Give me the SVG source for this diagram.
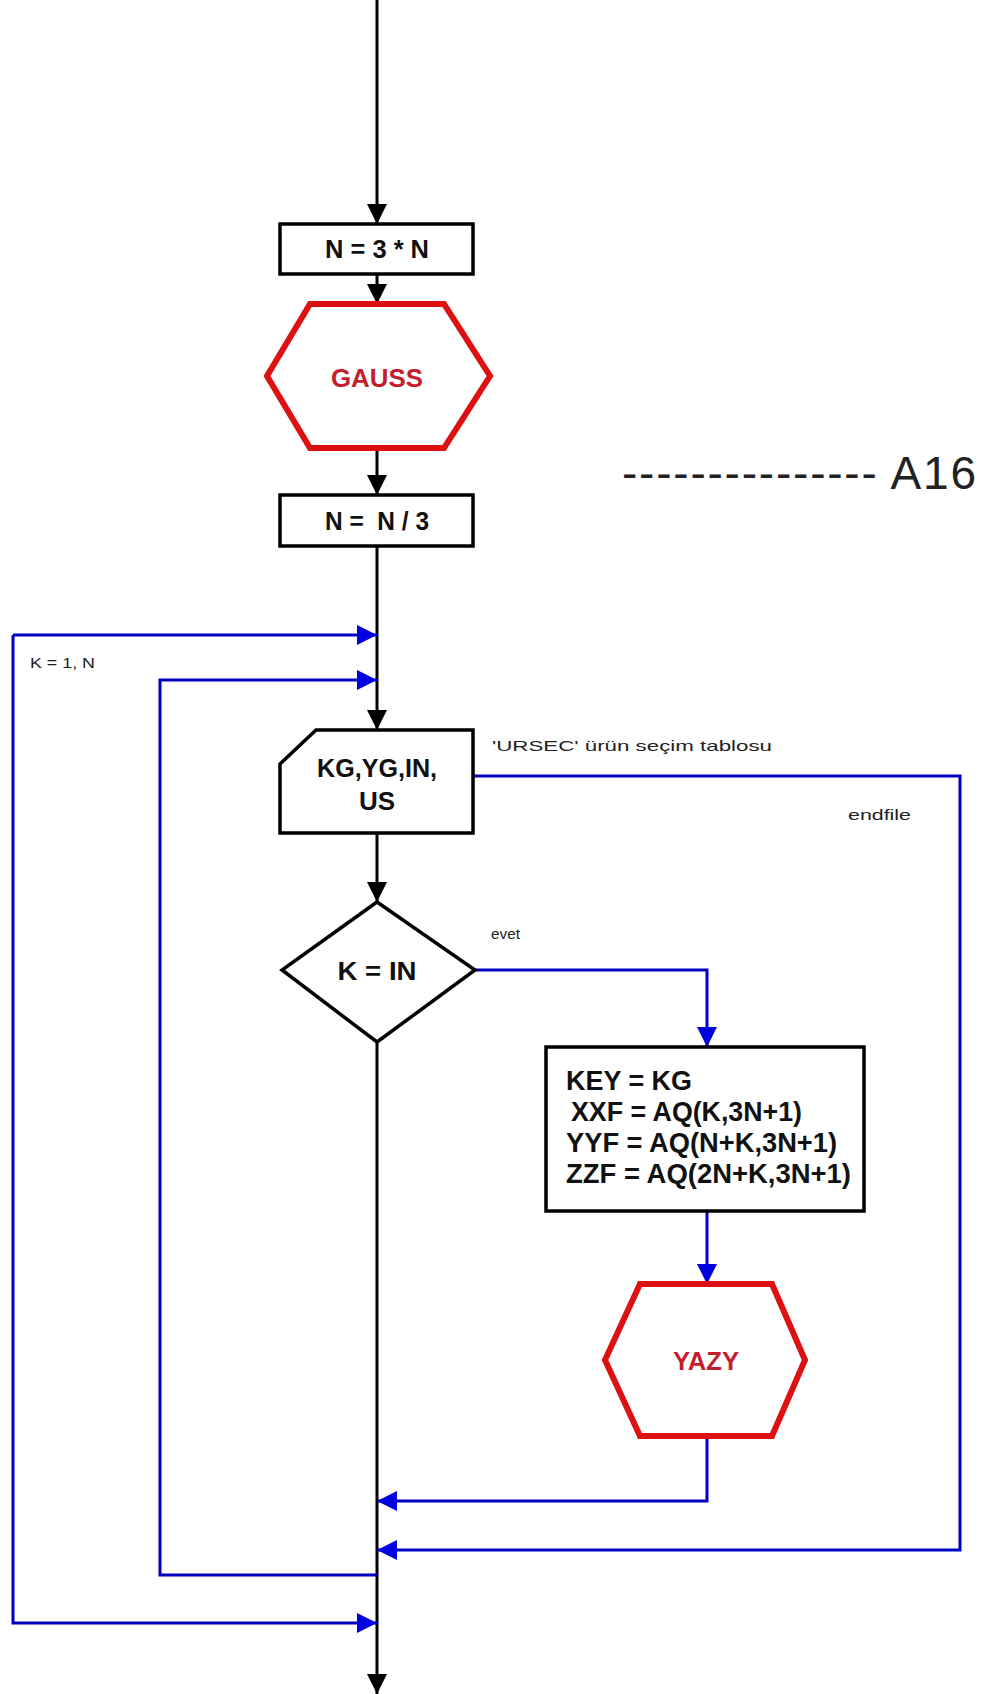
<svg xmlns="http://www.w3.org/2000/svg" width="983" height="1694" viewBox="0 0 983 1694">
<style>
.bk{fill:none;stroke:#000;stroke-width:3}
.bl{fill:none;stroke:#0000c0;stroke-width:3}
.box{fill:#fff;stroke:#000;stroke-width:3.5}
.hex{fill:#fff;stroke:#dd1111;stroke-width:6;stroke-linejoin:miter}
.lbl{font-family:"Liberation Sans",Arial,sans-serif;font-weight:bold;fill:#111;text-anchor:middle}
.red{font-family:"Liberation Sans",Arial,sans-serif;font-weight:bold;fill:#c41e2e;text-anchor:middle}
.sm{font-family:"Liberation Sans",Arial,sans-serif;fill:#222}
</style>
<defs>
<marker id="ab" markerUnits="userSpaceOnUse" markerWidth="22" markerHeight="20" refX="20" refY="10" orient="auto"><path d="M0,0 L20,10 L0,20 z" fill="#000"/></marker>
<marker id="au" markerUnits="userSpaceOnUse" markerWidth="22" markerHeight="20" refX="20" refY="10" orient="auto"><path d="M0,0 L20,10 L0,20 z" fill="#0000e0"/></marker>
</defs>
<g id="connectors">
<path class="bk" d="M377,0 V224" marker-end="url(#ab)"/>
<path class="bk" d="M377,274 V304" marker-end="url(#ab)"/>
<path class="bk" d="M377,448 V495" marker-end="url(#ab)"/>
<path class="bk" d="M377,546 V730" marker-end="url(#ab)"/>
<path class="bk" d="M377,833 V902" marker-end="url(#ab)"/>
<path class="bk" d="M377,1042 V1694" marker-end="url(#ab)"/>
<path class="bl" d="M475,970 H707 V1047" marker-end="url(#au)"/>
<path class="bl" d="M707,1211 V1284" marker-end="url(#au)"/>
<path class="bl" d="M707,1436 V1501 H377" marker-end="url(#au)"/>
<path class="bl" d="M473,776 H960 V1550 H377" marker-end="url(#au)"/>
<path class="bl" d="M377,1575 H160 V680 H377" marker-end="url(#au)"/>
<path class="bl" d="M13,635 H377" marker-end="url(#au)"/>
<path class="bl" d="M13,635 V1623 H377" marker-end="url(#au)"/>
</g>
<g id="n1">
<rect class="box" x="280" y="224" width="193" height="50"/>
<text class="lbl" x="377" y="258" font-size="25" textLength="104" lengthAdjust="spacingAndGlyphs">N = 3 * N</text>
</g>
<g id="gauss">
<polygon class="hex" points="310,304 444,304 490,376 444,448 310,448 267,376"/>
<text class="red" x="377" y="387" font-size="26" textLength="92" lengthAdjust="spacingAndGlyphs">GAUSS</text>
</g>
<g id="n2">
<rect class="box" x="280" y="495" width="193" height="51"/>
<text class="lbl" x="377" y="530" font-size="25" textLength="104" lengthAdjust="spacingAndGlyphs">N =&#160; N / 3</text>
</g>
<g id="a16">
<text class="sm" x="622" y="489" font-size="46" fill="#111" textLength="354" lengthAdjust="spacing">--------------- A16</text>
</g>
<g id="loop">
<text class="sm" x="30" y="668" font-size="14" textLength="65" lengthAdjust="spacingAndGlyphs">K = 1, N</text>
</g>
<g id="read">
<path class="box" d="M316,730 H473 V833 H280 V764 Z"/>
<text class="lbl" x="377" y="777" font-size="26" textLength="120" lengthAdjust="spacingAndGlyphs">KG,YG,IN,</text>
<text class="lbl" x="377" y="810" font-size="26">US</text>
<text class="sm" x="492" y="751" font-size="15" textLength="280" lengthAdjust="spacingAndGlyphs">'URSEC' ürün seçim  tablosu</text>
<text class="sm" x="848" y="820" font-size="14" textLength="63" lengthAdjust="spacingAndGlyphs">endfile</text>
</g>
<g id="dec">
<polygon class="box" points="377,902 475,970 377,1042 282,970"/>
<text class="lbl" x="377" y="980" font-size="26" textLength="79" lengthAdjust="spacingAndGlyphs">K = IN</text>
<text class="sm" x="491" y="939" font-size="14" textLength="29" lengthAdjust="spacingAndGlyphs">evet</text>
</g>
<g id="assign">
<rect class="box" x="546" y="1047" width="318" height="164"/>
<text class="lbl" style="text-anchor:start" font-size="27">
<tspan x="566" y="1090" textLength="126" lengthAdjust="spacingAndGlyphs">KEY = KG</tspan>
<tspan x="571" y="1121" textLength="231" lengthAdjust="spacingAndGlyphs">XXF = AQ(K,3N+1)</tspan>
<tspan x="566" y="1152" textLength="271" lengthAdjust="spacingAndGlyphs">YYF = AQ(N+K,3N+1)</tspan>
<tspan x="566" y="1183" textLength="285" lengthAdjust="spacingAndGlyphs">ZZF = AQ(2N+K,3N+1)</tspan>
</text>
</g>
<g id="yazy">
<polygon class="hex" points="640,1284 772,1284 805,1360 772,1436 640,1436 605,1360"/>
<text class="red" x="706" y="1370" font-size="25" textLength="66" lengthAdjust="spacingAndGlyphs">YAZY</text>
</g>
</svg>
